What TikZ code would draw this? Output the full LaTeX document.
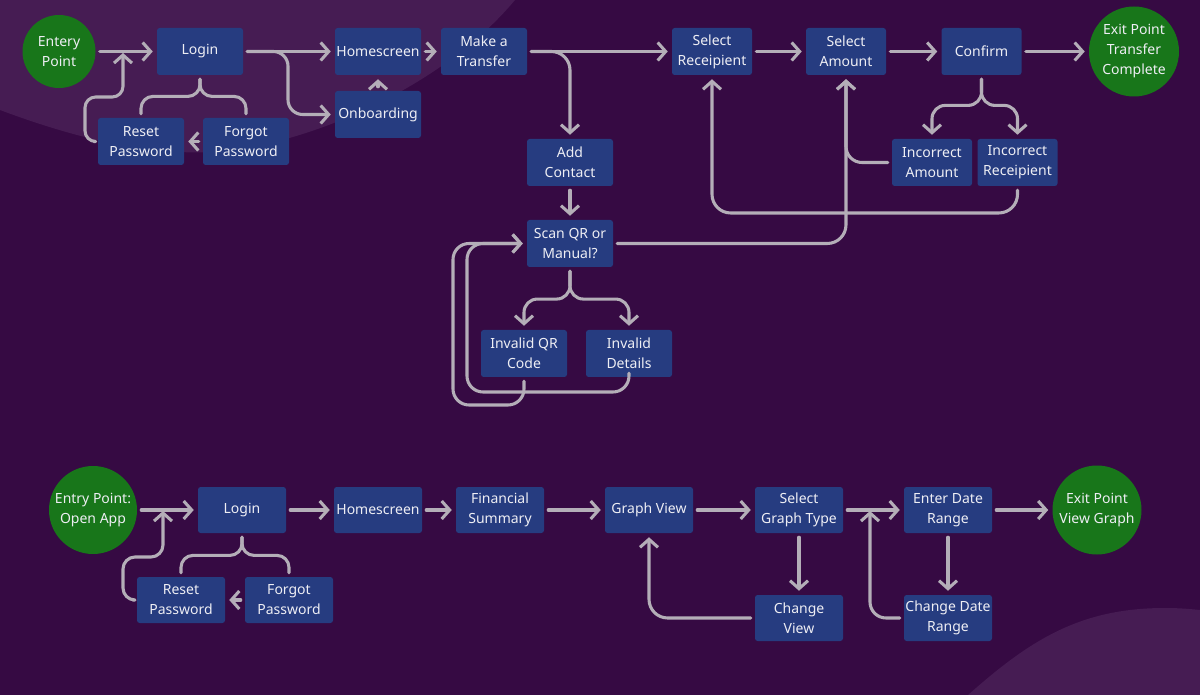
\documentclass[tikz,border=0pt]{standalone}
\usepackage{fontspec}
\setmainfont{Noto Sans}
\usetikzlibrary{arrows.meta}
\definecolor{bgdark}{HTML}{360A43}
\definecolor{bglight}{HTML}{461C53}
\definecolor{boxblue}{HTML}{263C80}
\definecolor{exitgreen}{HTML}{18761A}
\definecolor{arrowgray}{HTML}{B4AEB8}
\definecolor{txt}{HTML}{EEEEF4}
\begin{document}
\begin{tikzpicture}[x=0.75pt,y=-0.75pt,
  box/.style={fill=boxblue, rounded corners=2pt, text=txt, align=center, inner sep=0pt,
    minimum width=64.5pt, minimum height=35.25pt, font=\fontsize{10.5}{15}\selectfont},
  wbox/.style={box, minimum width=60pt},
  bbox/.style={box, minimum width=66pt, minimum height=34.5pt},
  term/.style={circle, fill=exitgreen, text=txt, align=center, inner sep=0pt,
    font=\fontsize{10.5}{15}\selectfont},
  link/.style={draw=arrowgray, line width=2.3pt, line cap=round, line join=round,
    shorten <=3pt, shorten >=3pt},
  conn/.style={link, -{Straight Barb[length=6pt,width=13.5pt]}}
]
\useasboundingbox (0,0) rectangle (1200,695);
\fill[bgdark] (0,0) rectangle (1200,695);
\fill[bglight] (0,110) .. controls (80,140) and (150,155) .. (210,152)
  .. controls (300,148) and (440,90) .. (515,0) -- (0,0) -- cycle;
\fill[bglight] (968,695) .. controls (1030,640) and (1080,608) .. (1165,608)
  .. controls (1180,608) and (1190,609) .. (1200,610) -- (1200,695) -- cycle;

% ---------- top flow ----------
\node[term, minimum size=54.75pt] (entry) at (59,51.5) {Entery\\Point};
\node[box] (login) at (200,51.5) {Login};
\node[box] (home) at (378,51.5) {Homescreen};
\node[box] (onb) at (378,114.5) {Onboarding};
\node[box] (mt) at (484,51.5) {Make a\\Transfer};
\node[box] (reset) at (141,141.5) {Reset\\Password};
\node[box] (forgot) at (246,141.5) {Forgot\\Password};
\node[box] (addc) at (570,162.5) {Add\\Contact};
\node[box] (scan) at (570,243.5) {Scan QR or\\Manual?};
\node[box] (iqr) at (524,353.5) {Invalid QR\\Code};
\node[box] (idet) at (629,353.5) {Invalid\\Details};
\node[wbox] (srec) at (712,51.5) {Select\\Receipient};
\node[wbox] (samt) at (846,51.5) {Select\\Amount};
\node[wbox] (conf) at (981.5,51.5) {Confirm};
\node[term, minimum size=67.5pt] (exit1) at (1134,51.5) {Exit Point\\Transfer\\Complete};
\node[wbox] (iamt) at (932,162.5) {Incorrect\\Amount};
\node[wbox] (irec) at (1017.5,162.5) {Incorrect\\Receipient};

\coordinate (j1) at (123,49);
\coordinate (w1) at (85,97);
\coordinate (w2) at (288,51.5);
\coordinate (q1) at (453,405);
\coordinate (q2) at (467,392);
\coordinate (r1) at (712,213);

\draw[conn] (entry) -- (login);
\draw[conn, rounded corners=8pt] (reset.west) -| (w1) -| (j1);
\draw[conn] (login) -- (home);
\draw[conn, rounded corners=11pt] (login.east) -- (w2) |- (onb.west);
\draw[conn] (onb) -- (home);
\draw[link, rounded corners=9pt] (login.south) |- ([yshift=16pt]reset.north) -- (reset.north);
\draw[link, rounded corners=9pt] (login.south) |- ([yshift=16pt]forgot.north) -- (forgot.north);
\draw[conn] (forgot) -- (reset);
\draw[conn] (home) -- (mt);
\draw[conn] (mt) -- (srec);
\draw[conn, rounded corners=14pt] (mt.east) -| (addc.north);
\draw[conn] (addc) -- (scan);
\draw[conn, rounded corners=14pt] (scan.east) -| (samt.south);
\draw[conn, rounded corners=10pt] (scan.south) |- ([yshift=23pt]iqr.north) -- (iqr.north);
\draw[conn, rounded corners=10pt] (scan.south) |- ([yshift=23pt]idet.north) -- (idet.north);
\draw[conn, rounded corners=12pt] (iqr.south) |- (q1) |- (scan.west);
\draw[conn, rounded corners=12pt] (idet.south) |- (q2) |- (scan.west);
\draw[conn] (srec) -- (samt);
\draw[conn] (samt) -- (conf);
\draw[conn] (conf) -- (exit1);
\draw[conn, rounded corners=10pt] (conf.south) |- ([yshift=25pt]iamt.north) -- (iamt.north);
\draw[conn, rounded corners=10pt] (conf.south) |- ([yshift=25pt]irec.north) -- (irec.north);
\draw[conn, rounded corners=12pt] (iamt.west) -| (samt.south);
\draw[conn, rounded corners=14pt] (irec.south) |- (r1) -- (srec.south);

% ---------- bottom flow ----------
\node[term, minimum size=66pt] (entry2) at (93,510) {Entry Point:\\Open App};
\node[bbox] (login2) at (242,510) {Login};
\node[bbox] (home2) at (378,510) {Homescreen};
\node[bbox] (fin) at (500,510) {Financial\\Summary};
\node[bbox] (gv) at (649,510) {Graph View};
\node[bbox] (sgt) at (799,510) {Select\\Graph Type};
\node[bbox] (edr) at (948,510) {Enter Date\\Range};
\node[term, minimum size=66.75pt] (exit2) at (1097,510) {Exit Point\\View Graph};
\node[bbox] (reset2) at (181,600) {Reset\\Password};
\node[bbox] (forgot2) at (289,600) {Forgot\\Password};
\node[bbox] (cv) at (799,618) {Change\\View};
\node[bbox] (cdr) at (948,618) {Change Date\\Range};

\coordinate (j2) at (163,507);
\coordinate (w4) at (123,557);
\coordinate (j3) at (870,507);

\draw[conn] (entry2) -- (login2);
\draw[conn, rounded corners=9pt] (reset2.west) -| (w4) -| (j2);
\draw[link, rounded corners=9pt] (login2.south) |- ([yshift=16pt]reset2.north) -- (reset2.north);
\draw[link, rounded corners=9pt] (login2.south) |- ([yshift=16pt]forgot2.north) -- (forgot2.north);
\draw[conn] (forgot2) -- (reset2);
\draw[conn] (login2) -- (home2);
\draw[conn] (home2) -- (fin);
\draw[conn] (fin) -- (gv);
\draw[conn] (gv) -- (sgt);
\draw[conn] (sgt) -- (edr);
\draw[conn] (edr) -- (exit2);
\draw[conn] (sgt) -- (cv);
\draw[conn, rounded corners=14pt] (cv.west) -| (gv.south);
\draw[conn] (edr) -- (cdr);
\draw[conn, rounded corners=12pt] (cdr.west) -| (j3);
\end{tikzpicture}
\end{document}
